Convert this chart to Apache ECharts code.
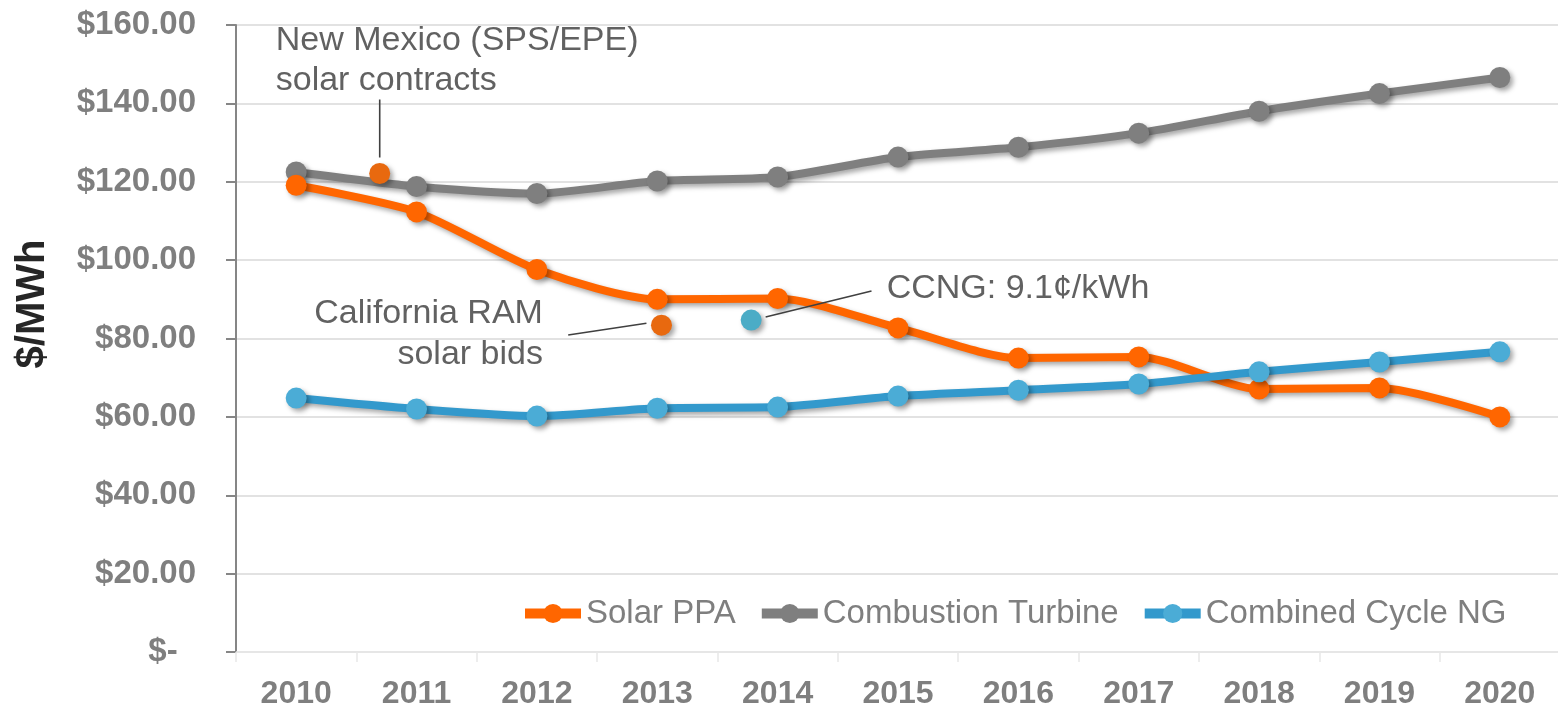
<!DOCTYPE html>
<html>
<head>
<meta charset="utf-8">
<script src="https://cdn.jsdelivr.net/npm/echarts@6/dist/echarts.min.js"></script>
<style>
html,body{margin:0;padding:0;background:#fff;}
#chart{width:1558px;height:708px;}
</style>
</head>
<body>
<div id="chart"></div>
<script>
// ---- data ----
const years = ['2010','2011','2012','2013','2014','2015','2016','2017','2018','2019','2020'];
const solarPPA = [119.1, 112.3, 97.6, 90.0, 90.2, 82.7, 75.0, 75.3, 67.1, 67.4, 60.0];
const combustionTurbine = [122.5, 118.8, 117.0, 120.2, 121.2, 126.3, 128.8, 132.4, 138.0, 142.5, 146.6];
const combinedCycleNG = [64.8, 62.0, 60.2, 62.2, 62.5, 65.3, 66.8, 68.4, 71.5, 74.0, 76.6];
const yTickLabels = ['$-  ', '$20.00', '$40.00', '$60.00', '$80.00', '$100.00', '$120.00', '$140.00', '$160.00'];
const yAxisTitle = '$/MWh';
// extra points: [category position, value]
const newMexicoPoint = [[0.694, 122.1]];
const californiaPoint = [[3.035, 83.4]];
const ccngPoint = [[3.78, 84.7]];
// leader lines: [category position, value]
const newMexicoLeader = [[0.694, 126.2], [0.694, 141.0]];
const californiaLeader = [[2.26, 80.9], [2.91, 83.9]];
const ccngLeader = [[3.90, 85.5], [4.78, 92.1]];
// annotation texts
const annLeft = [
  {text: 'New Mexico (SPS/EPE)', pos: [-0.17, 155.9]},
  {text: 'solar contracts', pos: [-0.17, 145.9]},
  {text: 'CCNG: 9.1¢/kWh', pos: [4.906, 92.8]}
];
const annRight = [
  {text: 'California RAM', pos: [2.05, 86.4]},
  {text: 'solar bids', pos: [2.05, 76.0]}
];

const FONT = '"Liberation Sans", Arial, sans-serif';
const ORANGE = '#FF6600', GRAY = '#7F7F7F', BLUE_LINE = '#3399CC', BLUE_MARK = '#4BACD6';
const SH = {shadowColor: 'rgba(0,0,0,0.35)', shadowBlur: 5, shadowOffsetX: 3, shadowOffsetY: 3};

function mainSeries(name, data, lineColor, markColor) {
  return {
    name, type: 'line', data, xAxisIndex: 0, yAxisIndex: 0,
    smooth: 0.25, symbol: 'circle', symbolSize: 21,
    lineStyle: Object.assign({color: lineColor, width: 8}, SH),
    itemStyle: Object.assign({color: markColor}, SH),
    emphasis: {disabled: true}
  };
}
function dotSeries(name, data, color) {
  return {
    name, type: 'scatter', data, xAxisIndex: 1, yAxisIndex: 0,
    symbol: 'circle', symbolSize: 21, silent: true,
    itemStyle: Object.assign({color, opacity: 1}, SH), z: 3
  };
}
function leaderSeries(name, data) {
  return {
    name, type: 'line', data, xAxisIndex: 1, yAxisIndex: 0,
    symbol: 'none', silent: true,
    lineStyle: {color: '#404040', width: 1.6}, z: 4
  };
}
function textSeries(name, items, align) {
  return {
    name, type: 'scatter', xAxisIndex: 1, yAxisIndex: 0, silent: true,
    symbolSize: 0, z: 5,
    data: items.map(a => ({value: a.pos, label: {formatter: a.text}})),
    label: {show: true, position: 'inside', align: align, verticalAlign: 'middle',
      fontFamily: FONT, fontSize: 34, color: '#3A3A3A', offset: [0, 0]}
  };
}

const chart = echarts.init(document.getElementById('chart'), null, {renderer: 'canvas'});
chart.setOption({
  animation: false,
  backgroundColor: '#fff',
  grid: {left: 236, top: 25, width: 1324, height: 627, containLabel: false, outerBoundsMode: 'none'},
  graphic: [{
    type: 'text', x: 33, y: 304, rotation: Math.PI / 2, silent: true,
    style: {text: yAxisTitle, font: 'bold 40px ' + FONT, fill: '#262626',
      textAlign: 'center', textVerticalAlign: 'middle'}
  }],
  xAxis: [
    {
      type: 'category', data: years, boundaryGap: true,
      axisLine: {show: true, lineStyle: {color: '#E8E8E8', width: 1.5}},
      axisTick: {show: true, length: 10, lineStyle: {color: '#E8E8E8', width: 1.5}},
      axisLabel: {fontFamily: FONT, fontSize: 32, fontWeight: 'bold', color: GRAY, margin: 26},
      splitLine: {show: false}
    },
    {type: 'value', min: -0.5, max: 10.5, show: false}
  ],
  yAxis: {
    type: 'value', min: 0, max: 160, interval: 20,
    axisLine: {show: true, onZero: false, lineStyle: {color: '#868686', width: 2}},
    axisTick: {show: true, length: 10, lineStyle: {color: '#868686', width: 2}},
    axisLabel: {
      fontFamily: FONT, fontSize: 33, fontWeight: 'bold', color: GRAY, margin: 40,
      formatter: v => yTickLabels[Math.round(v / 20)]
    },
    splitLine: {show: true, lineStyle: {color: '#D9D9D9', width: 1.5}}
  },
  legend: {
    data: ['Solar PPA', 'Combustion Turbine', 'Combined Cycle NG'],
    left: 515, top: 592, orient: 'horizontal',
    itemWidth: 56, itemHeight: 24, itemGap: 21,
    lineStyle: {width: 10},
    textStyle: {fontFamily: FONT, fontSize: 33, color: GRAY},
    selectedMode: false
  },
  series: [
    mainSeries('Combustion Turbine', combustionTurbine, GRAY, GRAY),
    mainSeries('Solar PPA', solarPPA, ORANGE, ORANGE),
    mainSeries('Combined Cycle NG', combinedCycleNG, BLUE_LINE, BLUE_MARK),
    dotSeries('nm', newMexicoPoint, '#E8690F'),
    dotSeries('ca', californiaPoint, '#E8690F'),
    dotSeries('cc', ccngPoint, '#4BACC6'),
    leaderSeries('nmL', newMexicoLeader),
    leaderSeries('caL', californiaLeader),
    leaderSeries('ccL', ccngLeader),
    textSeries('annL', annLeft, 'left'),
    textSeries('annR', annRight, 'right')
  ]
});
</script>
</body>
</html>
